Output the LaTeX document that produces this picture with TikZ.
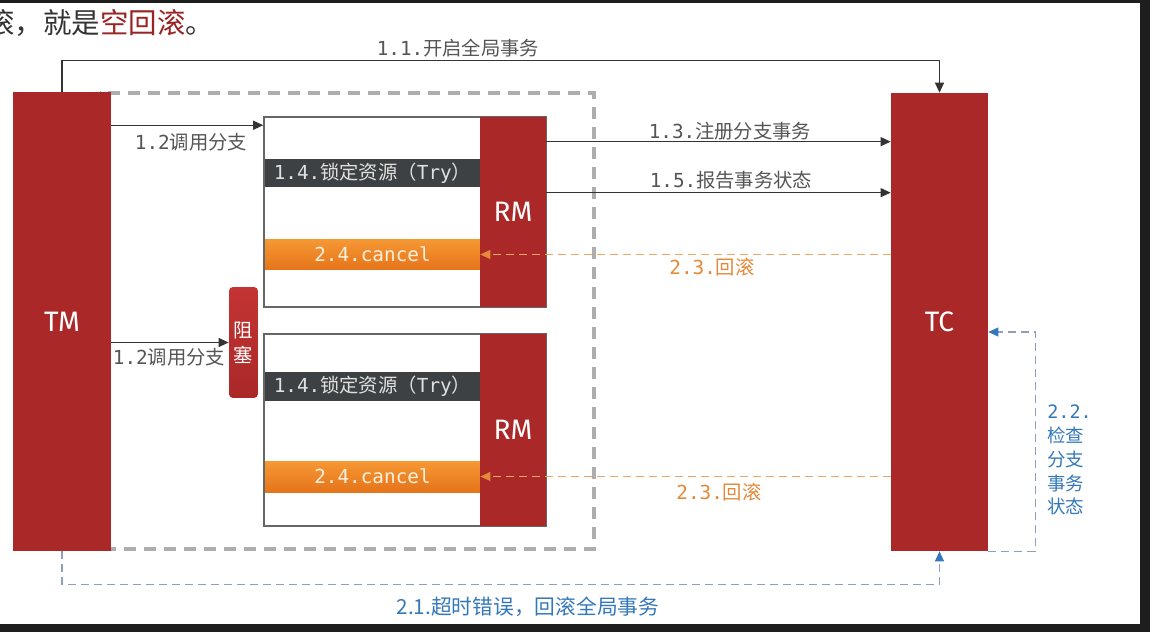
\documentclass[tikz,border=0pt]{standalone}
\usepackage{fontspec}
\newfontfamily\cjk{Noto Sans CJK SC}
\newfontfamily\lblfont{DejaVu Sans Mono}
\newfontfamily\headfont{Fira Sans}
\newcommand{\zh}[1]{{\cjk #1}}
\usetikzlibrary{arrows.meta,calc}
\definecolor{tcred}{RGB}{170,40,40}
\definecolor{blkred}{RGB}{196,52,52}
\definecolor{bargray}{RGB}{62,65,67}
\definecolor{lblgray}{RGB}{85,85,85}
\definecolor{cantop}{RGB}{245,152,52}
\definecolor{canbot}{RGB}{230,116,26}
\definecolor{rbkorange}{RGB}{227,137,58}
\definecolor{rbkline}{RGB}{240,165,100}
\definecolor{chkblue}{RGB}{52,120,186}
\definecolor{chkline}{RGB}{140,160,188}
\definecolor{framedark}{RGB}{30,30,30}
\begin{document}
\begin{tikzpicture}[x=0.02cm, y=-0.02cm,
    actor/.style={fill=tcred, text=white, inner sep=0pt,
        font=\headfont\fontsize{16}{18}\selectfont},
    branchbox/.style={draw=black!60, line width=0.9pt, fill=white,
        minimum width=5.64cm, inner sep=0pt},
    trybar/.style={fill=bargray, text=white!88!black, inner sep=0pt,
        minimum width=4.3cm, minimum height=0.58cm,
        font=\lblfont\fontsize{11}{13}\selectfont},
    cancelbar/.style={top color=cantop, bottom color=canbot,
        text=orange!12!white, inner sep=0pt,
        minimum width=4.3cm, minimum height=0.62cm,
        font=\lblfont\fontsize{11}{13}\selectfont},
    mylabel/.style={text=lblgray, inner sep=0pt,
        font=\lblfont\fontsize{11}{13}\selectfont},
    flow/.style={draw=black!80, line width=0.6pt,
        -{Triangle[length=0.2cm,width=0.18cm]}},
    rbflow/.style={draw=rbkline, line width=0.6pt, dash pattern=on 0.16cm off 0.1cm,
        -{Triangle[length=0.2cm,width=0.18cm,fill=rbkorange,color=rbkorange]}},
    chkflow/.style={draw=chkline, line width=0.6pt, dash pattern=on 0.16cm off 0.1cm,
        -{Triangle[length=0.2cm,width=0.18cm,fill=chkblue,color=chkblue]}}
]
    \useasboundingbox (0,0) rectangle (1150,632);
    \fill[white] (0,0) rectangle (1150,632);

    % Heading text (cut at the left)
    \node[anchor=base west, inner sep=0pt, text=black!80,
        font=\cjk\fontsize{16.2}{18}\selectfont] (head) at (-14,33)
        {滚，就是\textcolor{tcred!90!black}{空回滚}。};

    % Dashed group box
    \draw[black!32, line width=2pt, dash pattern=on 0.24cm off 0.16cm]
        (100,93) rectangle (594,549);

    % TM and TC
    \node[actor, minimum width=1.96cm, minimum height=9.18cm] (tm) at (62,321.5) {TM};
    \node[actor, minimum width=1.94cm, minimum height=9.16cm] (tc) at (939.5,322) {TC};

    % Upper branch
    \node[branchbox, minimum height=3.8cm] (b1) at (405,212) {};
    \node[actor, minimum width=1.32cm, minimum height=3.8cm] (rm1) at (513,212) {RM};
    \node[trybar] (try1) at (372.5,173) {1.4.\zh{锁定资源（}Try\zh{）}};
    \node[cancelbar] (cancel1) at (372.5,254.5) {2.4.cancel};

    % Lower branch
    \node[branchbox, minimum height=3.84cm] (b2) at (405,430) {};
    \node[actor, minimum width=1.32cm, minimum height=3.84cm] (rm2) at (513,430) {RM};
    \node[trybar] (try2) at (372.5,386) {1.4.\zh{锁定资源（}Try\zh{）}};
    \node[cancelbar] (cancel2) at (372.5,476.5) {2.4.cancel};

    % Blocking
    \node[top color=blkred, bottom color=tcred, text=white, rounded corners=0.08cm,
        minimum width=0.58cm, minimum height=2.22cm, inner sep=0pt, align=center,
        font=\cjk\fontsize{11}{14}\selectfont] (blk) at (243.5,342.5) {阻\\塞};

    % 1.1 begin global transaction
    \draw[flow] (tm.north) -- ++(0,0.62cm) -| (tc.north);
    \node[mylabel] (l11) at (458,48) {1.1.\zh{开启全局事务}};

    % 1.2 call branches
    \coordinate (in1) at ([yshift=-0.18cm]b1.north west);
    \draw[flow] (tm.east |- in1) -- (in1);
    \node[mylabel] (l12a) at (191,142) {1.2\zh{调用分支}};
    \draw[flow] (tm.east |- blk.west) -- (blk.west);
    \node[mylabel] (l12b) at (169,357) {1.2\zh{调用分支}};

    % 1.3 / 1.5 register and report
    \coordinate (o13) at ([yshift=-0.5cm]rm1.north east);
    \coordinate (o15) at ([yshift=-1.52cm]rm1.north east);
    \draw[flow] (o13) -- (o13 -| tc.west);
    \node[mylabel] (l13) at (730,131) {1.3.\zh{注册分支事务}};
    \draw[flow] (o15) -- (o15 -| tc.west);
    \node[mylabel] (l15) at (731,180) {1.5.\zh{报告事务状态}};

    % 2.3 rollback
    \draw[rbflow] (cancel1.east -| tc.west) -- (cancel1.east);
    \node[mylabel, text=rbkorange] (l23a) at (712,267) {2.3.\zh{回滚}};
    \draw[rbflow] (cancel2.east -| tc.west) -- (cancel2.east);
    \node[mylabel, text=rbkorange] (l23b) at (719,492) {2.3.\zh{回滚}};

    % 2.1 timeout
    \draw[chkflow] (tm.south) -- ++(0,-0.66cm) -| (tc.south);
    \node[inner sep=0pt, text=chkblue, font=\cjk\fontsize{11.8}{15}\selectfont]
        (l21) at (528,607) {2.1.超时错误，回滚全局事务};

    % 2.2 check branch state
    \coordinate (in22) at ([yshift=-0.2cm]tc.east);
    \draw[chkflow] (tc.south east) -- ++(0.94cm,0) |- (in22);
    \node[mylabel, text=chkblue, anchor=west, align=left,
        font=\lblfont\fontsize{10.5}{13.6}\selectfont] (l22) at (1047,460)
        {2.2.\\\zh{检查}\\\zh{分支}\\\zh{事务}\\\zh{状态}};

    % Screen frame
    \fill[framedark] (0,0) rectangle (1150,3);
    \fill[framedark] (1140,0) rectangle (1150,632);
    \fill[framedark] (0,624) rectangle (1150,632);
\end{tikzpicture}
\end{document}
